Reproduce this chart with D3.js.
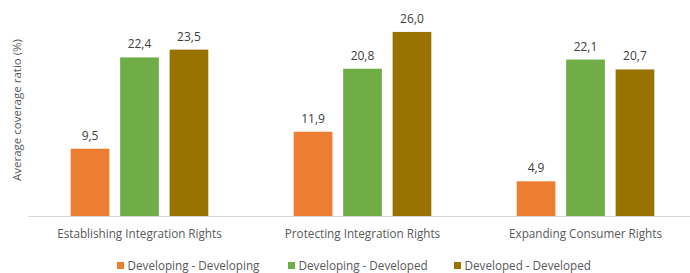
<!DOCTYPE html>
<html>
<head>
<meta charset="utf-8">
<script src="https://cdn.jsdelivr.net/npm/d3@7"></script>
<style>
  body { margin: 0; background: #fff; }
  text { font-family: "Open Sans", "Noto Sans", sans-serif; fill: #595959; }
</style>
</head>
<body>
<div id="chart"></div>
<script>
const categories = [
  "Establishing Integration Rights",
  "Protecting Integration Rights",
  "Expanding Consumer Rights",
];
const seriesNames = [
  "Developing - Developing",
  "Developing - Developed",
  "Developed - Developed",
];
const developingDeveloping = [9.5, 11.9, 4.9];
const developingDeveloped = [22.4, 20.8, 22.1];
const developedDeveloped = [23.5, 26.0, 20.7];
const seriesValues = [developingDeveloping, developingDeveloped, developedDeveloped];
const colors = ["#ED7D31", "#70AD47", "#997300"];

const width = 690;
const height = 273;
const plotLeft = 28;
const plotRight = 697;
const plotBottom = 216;

const formatValue = (v) => v.toFixed(1).replace(".", ",");

const svg = d3
  .select("#chart")
  .append("svg")
  .attr("width", width)
  .attr("height", height);

const x0 = d3
  .scaleBand()
  .domain(categories)
  .range([plotLeft, plotRight])
  .paddingInner(0.383)
  .paddingOuter(0.1915);

const x1 = d3
  .scaleBand()
  .domain(seriesNames)
  .range([0, x0.bandwidth()])
  .paddingInner(0.218);

const y = d3.scaleLinear().domain([0, 30]).range([plotBottom, plotBottom - 212.4]);

const rows = categories.flatMap((c, i) =>
  seriesNames.map((s, j) => ({ category: c, series: s, value: seriesValues[j][i], color: colors[j] }))
);

// baseline
svg
  .append("line")
  .attr("x1", plotLeft)
  .attr("x2", plotRight)
  .attr("y1", plotBottom + 0.5)
  .attr("y2", plotBottom + 0.5)
  .attr("stroke", "#D9D9D9")
  .attr("stroke-width", 1);

svg
  .append("g")
  .selectAll("rect")
  .data(rows)
  .join("rect")
  .attr("x", (d) => x0(d.category) + x1(d.series))
  .attr("y", (d) => y(d.value))
  .attr("width", x1.bandwidth())
  .attr("height", (d) => y(0) - y(d.value))
  .attr("fill", (d) => d.color);

svg
  .append("g")
  .selectAll("text")
  .data(rows)
  .join("text")
  .attr("x", (d) => x0(d.category) + x1(d.series) + x1.bandwidth() / 2)
  .attr("y", (d) => y(d.value) - 9)
  .attr("text-anchor", "middle")
  .attr("font-size", 12)
  .style("fill", "#404040")
  .text((d) => formatValue(d.value));

// category axis
const xAxis = svg
  .append("g")
  .attr("transform", `translate(0,${plotBottom})`)
  .call(d3.axisBottom(x0).tickSize(0).tickPadding(14));
xAxis.select(".domain").remove();
xAxis.selectAll("text").attr("font-size", 11.7).attr("fill", "#595959").attr("font-family", null);

// y title
svg
  .append("text")
  .attr("transform", `translate(21,110) rotate(-90)`)
  .attr("text-anchor", "middle")
  .attr("font-size", 11.5)
  .text("Average coverage ratio (%)");

// legend
const legendX = [117, 288, 454];
const legend = svg
  .append("g")
  .selectAll("g")
  .data(seriesNames)
  .join("g")
  .attr("transform", (d, i) => `translate(${legendX[i]},262)`);
legend
  .append("rect")
  .attr("width", 7)
  .attr("height", 7)
  .attr("fill", (d, i) => colors[i]);
legend
  .append("text")
  .attr("x", 10.5)
  .attr("y", 8)
  .attr("font-size", 11.7)
  .text((d) => d);
</script>
</body>
</html>
